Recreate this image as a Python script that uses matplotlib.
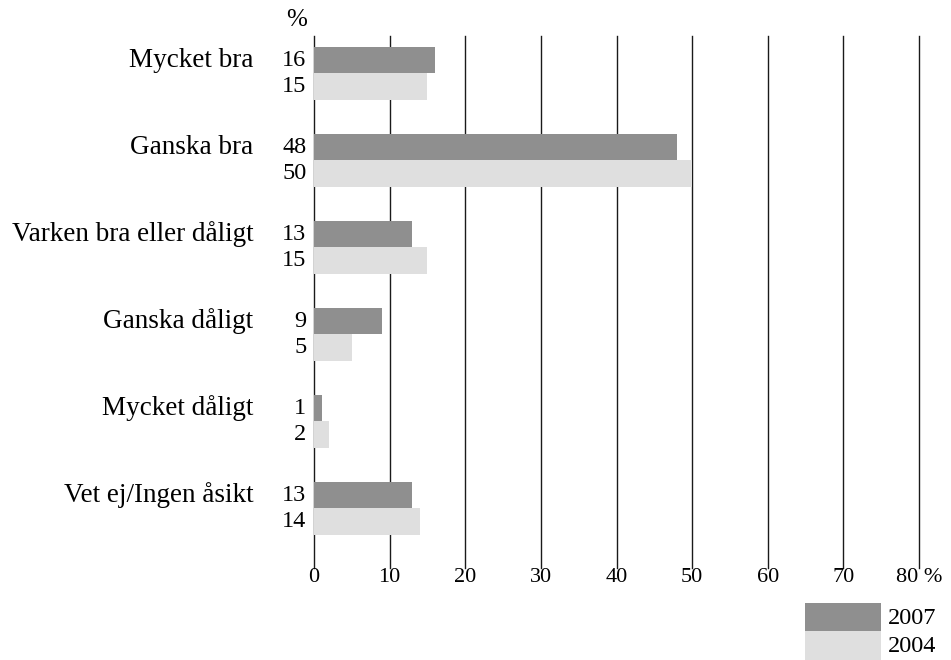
import numpy as np
import matplotlib
matplotlib.use('Agg')
import matplotlib.pyplot as plt
from matplotlib.patches import Rectangle

categories = ['Mycket bra', 'Ganska bra', 'Varken bra eller dåligt',
              'Ganska dåligt', 'Mycket dåligt', 'Vet ej/Ingen åsikt']
vals_2007 = [16, 48, 13, 9, 1, 13]
vals_2004 = [15, 50, 15, 5, 2, 14]
years = ['2007', '2004']
xticks = [0, 10, 20, 30, 40, 50, 60, 70, 80]

plt.rcParams['font.family'] = ['Liberation Serif', 'DejaVu Serif']
COL_07 = '#8f8f8f'
COL_04 = '#dfdfdf'

W, H = 951, 660
fig = plt.figure(figsize=(W / 100, H / 100), dpi=100)
ax = fig.add_axes([314 / W, 1 - 568 / H, (919 - 314) / W, (568 - 36) / H])

y = np.arange(len(categories))
bh = 0.305
ax.barh(y - bh / 2, vals_2007, height=bh, color=COL_07, edgecolor='none', zorder=3)
ax.barh(y + bh / 2, vals_2004, height=bh, color=COL_04, edgecolor='none', zorder=3)

ax.set_xlim(0, 80)
ax.set_ylim(5.684, -0.431)
for xv in xticks:
    ax.axvline(xv, color='#1a1a1a', lw=1.0, zorder=1, clip_on=False)
for s in ax.spines.values():
    s.set_visible(False)
ax.set_yticks([])
ax.set_xticks(xticks)
ax.set_xticklabels([str(v) for v in xticks[:-1]] + ['80 %'], fontsize=16)
ax.tick_params(axis='x', length=0, pad=0)

for i, cat in enumerate(categories):
    ax.text(-8.0, i - bh / 2, cat, ha='right', va='center', fontsize=19.5)
    ax.text(-1.0, i - bh / 2, str(vals_2007[i]), ha='right', va='center', fontsize=17.5)
    ax.text(-1.0, i + bh / 2, str(vals_2004[i]), ha='right', va='center', fontsize=17.5)

fig.text(297 / W, 1 - 20 / H, '%', ha='center', va='center', fontsize=18)

# legend drawn by hand, bottom right
for k, (lab, col) in enumerate(zip(years, [COL_07, COL_04])):
    y0 = 1 - (632 + 28 * k) / H
    fig.add_artist(Rectangle((805 / W, y0), 76 / W, 29 / H,
                             transform=fig.transFigure, color=col, lw=0))
    fig.text(888 / W, y0 + 14 / H, lab, ha='left', va='center', fontsize=17.5)

fig.savefig('out.png', dpi=100, facecolor='white')
